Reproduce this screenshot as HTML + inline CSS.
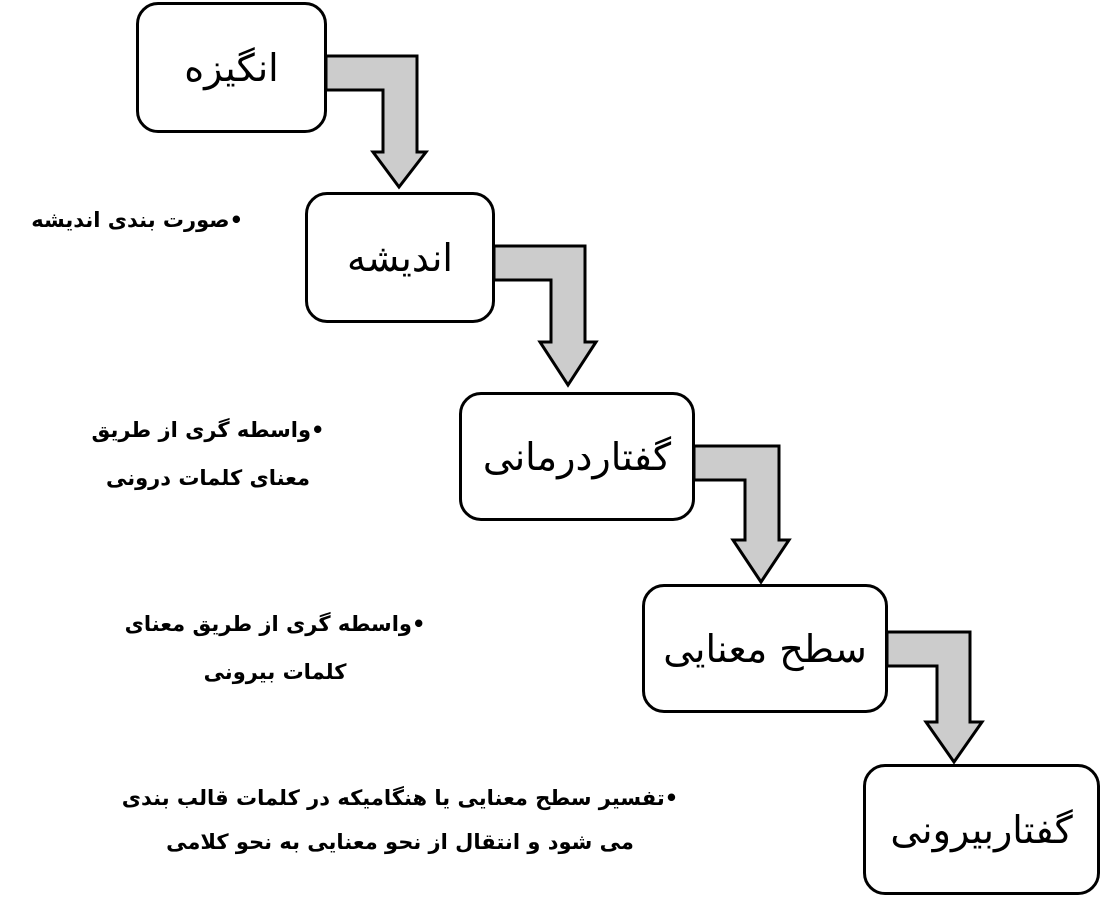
<!DOCTYPE html>
<html><head><meta charset="utf-8"><style>
body{margin:0;width:1103px;height:900px;background:#fff;position:relative;overflow:hidden;font-family:"DejaVu Sans","Liberation Sans",sans-serif}
.b{position:absolute;border:3px solid #000;border-radius:22px;box-sizing:border-box;background:#fff;display:flex;align-items:center;justify-content:center;font-size:38px;direction:rtl}
.n{position:absolute;font-weight:bold;font-size:21px;direction:rtl;text-align:center;line-height:48px;white-space:nowrap}
svg{position:absolute;left:0;top:0}
</style></head><body>
<svg width="1103" height="900">
<g fill="#cccccc" stroke="#000" stroke-width="3" stroke-linejoin="miter">
<path d="M326,56 H417 V152 H426 L399,187 L373,152 H383 V90 H326 Z"/>
<path d="M494,246 H585 V342 H596 L568,385 L540,342 H551 V280 H494 Z"/>
<path d="M694,446 H779 V540 H789 L761,582 L733,540 H745 V480 H694 Z"/>
<path d="M887,632 H970 V722 H982 L954,762 L926,722 H937 V666 H887 Z"/>
</g>
</svg>
<div class="b" style="left:136px;top:2px;width:191px;height:131px">انگیزه</div>
<div class="b" style="left:305px;top:192px;width:190px;height:131px">اندیشه</div>
<div class="b" style="left:459px;top:392px;width:236px;height:129px">گفتاردرمانی</div>
<div class="b" style="left:642px;top:584px;width:246px;height:129px">سطح معنایی</div>
<div class="b" style="left:863px;top:764px;width:237px;height:131px">گفتاربیرونی</div>
<div class="n" style="right:860px;top:196px">•صورت بندی اندیشه</div>
<div class="n" style="left:80px;width:256px;top:406px">•واسطه گری از طریق<br>معنای کلمات درونی</div>
<div class="n" style="left:120px;width:310px;top:600px">•واسطه گری از طریق معنای<br>کلمات بیرونی</div>
<div class="n" style="left:110px;width:580px;top:776px;line-height:44px">•تفسیر سطح معنایی یا هنگامیکه در کلمات قالب بندی<br>می شود و انتقال از نحو معنایی به نحو کلامی</div>
</body></html>
